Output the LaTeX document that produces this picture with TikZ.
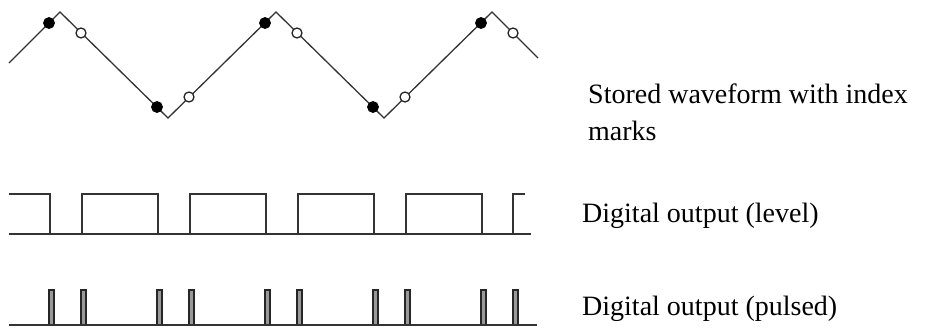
\documentclass[tikz,border=0pt]{standalone}
\usepackage{fontspec}
\setmainfont{Liberation Serif}
\begin{document}
\begin{tikzpicture}[x=1pt,y=-1pt,
  trace/.style={draw=black!80,line width=1.3pt,line join=miter},
  markfull/.style={circle,fill=black,draw=black,line width=0.8pt,minimum size=11pt,inner sep=0pt},
  markopen/.style={circle,fill=white,draw=black!85,line width=1.3pt,minimum size=10pt,inner sep=0pt},
  pulsebox/.style={draw=black!85,fill=black!40,line width=1.2pt},
  caption/.style={anchor=base west,inner sep=0pt,font=\fontsize{28}{34}\selectfont}]
\useasboundingbox (0,0) rectangle (930,327);

% stored triangle waveform
\draw[trace] (9,63) -- (60,12) -- (168,118) -- (276,12) -- (384,118) -- (492,12) -- (538,58);

% index marks: filled before each turning point, open after it
\foreach \x/\y [count=\i] in {49/23,157/107,265/23,373/107,481/23}
  \node[markfull] (f\i) at (\x,\y) {};
\foreach \x/\y [count=\i] in {81/33,189/97,297/33,405/97,513/33}
  \node[markopen] (o\i) at (\x,\y) {};

% digital output, level form
\draw[trace] (9,234) -- (531,234);
\draw[trace] (9,194) -- (50,194) -- (50,234);
\foreach \a/\b in {82/158,190/266,298/374,406/482}
  \draw[trace] (\a,234) -- (\a,194) -- (\b,194) -- (\b,234);
\draw[trace] (513,234) -- (513,194) -- (525,194);

% digital output, pulsed form
\foreach \x in {49,81,157,189,265,297,373,405,481,513}
  \draw[pulsebox] (\x,325) rectangle ++(5,-35);
\draw[trace] (9,325) -- (537,325);

% captions
\node[caption] (t1) at (588,103) {Stored waveform with index};
\node[caption] (t2) at (588,140) {marks};
\node[caption] (t3) at (582,222) {Digital output (level)};
\node[caption] (t4) at (582,315) {Digital output (pulsed)};
\end{tikzpicture}
\end{document}
